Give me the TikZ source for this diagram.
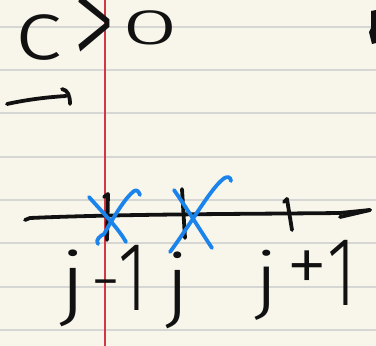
\documentclass[tikz,border=0pt]{standalone}
\usepackage{graphicx}
\usepackage{fontspec}
\IfFontExistsTF{Fira Sans Light}
  {\setmainfont{Fira Sans Light}}
  {\setmainfont{Fira Sans}}
\definecolor{paper}{HTML}{F8F6EA}
\definecolor{rule}{HTML}{D6D6D4}
\definecolor{margin}{HTML}{D03848}
\definecolor{ink}{HTML}{111111}
\definecolor{blueink}{HTML}{1A84EC}
\tikzset{
  pen/.style={draw=ink, line width=3.8pt, line cap=round, line join=round},
  bluepen/.style={draw=blueink, line width=3.8pt, line cap=round, line join=round},
  hand/.style={text=ink, inner sep=0pt, font=\fontsize{70}{70}\selectfont},
}
\newcommand{\tallone}{\scalebox{1}[1.4]{1}}
\begin{document}
\begin{tikzpicture}[x=1pt,y=-1pt]
\useasboundingbox (0,0) rectangle (376,346);
\fill[paper] (0,0) rectangle (376,346);
\foreach \yy in {27,70,113,157,200,243,287,330}
  \draw[rule, line width=1.2pt] (0,\yy) -- (376,\yy);
\draw[margin, line width=1.1pt] (105,0) -- (105,346);

% c > 0
\node[hand, font=\fontsize{80}{80}\selectfont] (c) at (39,38) {\scalebox{1.3}[1.05]{c}};
\node[hand, font=\fontsize{60}{60}\selectfont] (gt) at (94,33) {\scalebox{1.4}[2.4]{>}};
\node[hand, font=\fontsize{50}{50}\selectfont] (zero) at (150,28) {\scalebox{2.1}[1.0]{0}};

% partial glyph at right edge
\fill[ink] (371,11) -- (376,10) -- (376,43) -- (372,44) -- (370,36) -- (369,32) -- (371,28) -- cycle;

% vector arrow stroke
\coordinate (a0) at (7,104);
\coordinate (a1) at (66,96);
\coordinate (a2) at (62,89);
\coordinate (a3) at (70,104);
\draw[pen] (a0) .. controls (30,99) and (50,97) .. (a1);
\draw[pen] (a2) .. controls (68,90) and (70,96) .. (a3);

% axis
\coordinate (L) at (25,220);
\coordinate (R) at (370,210);
\draw[pen] (L) -- (30,218) .. controls (120,214) and (250,214) .. (340,213) -- (R);
\draw[pen] (R) -- (340,217);

% ticks
\coordinate (t1a) at (108,194); \coordinate (t1b) at (107,240);
\coordinate (t2a) at (182,189); \coordinate (t2b) at (185,238);
\coordinate (t3a) at (287,199); \coordinate (t3b) at (292,230);
\draw[pen] (t1a) -- (t1b);
\draw[pen] (104,197) -- (t1a);
\draw[pen] (t2a) -- (t2b);
\draw[pen] (t3a) -- (t3b);
\draw[pen] (284,202) -- (t3a);

% blue crosses
\draw[bluepen] (89,197) .. controls (105,215) and (118,228) .. (126,242);
\draw[bluepen] (98,244) .. controls (95,240) and (100,236) .. (104,234)
  .. controls (115,215) and (125,198) .. (134,191) .. controls (137,189) and (139,192) .. (140,195);
\draw[bluepen] (174,190) .. controls (188,210) and (200,230) .. (212,248);
\draw[bluepen] (170,252) .. controls (190,225) and (210,190) .. (222,180)
  .. controls (227,175) and (231,177) .. (231,181);

% labels
\node[hand, anchor=base west] (jm1) at (59,310) {\scalebox{1.45}[1.15]{j}\kern4pt\raisebox{7pt}{\scalebox{1.1}[1]{-}}\kern-3pt\tallone};
\node[hand, anchor=base west] (j) at (165,312) {\scalebox{1.3}[1.15]{j}};
\node[hand, anchor=base west] (jp1) at (254,305) {\scalebox{1.3}[1.05]{j}\kern8pt\raisebox{12pt}{\scalebox{1.2}{+}}\kern-1pt\tallone};
\end{tikzpicture}
\end{document}
